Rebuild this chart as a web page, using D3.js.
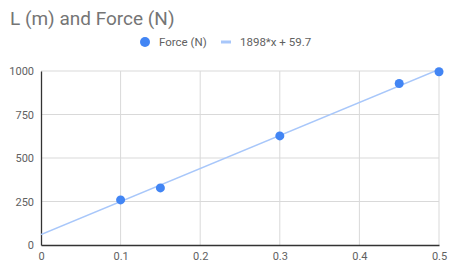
<!DOCTYPE html>
<html>
<head>
<meta charset="utf-8">
<script src="https://cdn.jsdelivr.net/npm/d3@7"></script>
<style>
  body { margin: 0; background: #fff; }
  svg { display: block; font-family: Roboto, Arial, sans-serif; }
</style>
</head>
<body>
<svg></svg>
<script>
const lengths = [0.1, 0.15, 0.3, 0.45, 0.5];
const forces = [259, 328, 627, 928, 996];
const slope = 1898;
const intercept = 59.7;
const xTicks = [0, 0.1, 0.2, 0.3, 0.4, 0.5];
const yTicks = [0, 250, 500, 750, 1000];
const title = 'L (m) and Force (N)';
const seriesName = 'Force (N)';
const trendName = '1898*x + 59.7';

const width = 450;
const height = 264;
const margin = { left: 41, right: 11, top: 71, bottom: 19 };

const svg = d3.select('svg').attr('width', width).attr('height', height);

const xScale = d3.scaleLinear().domain([0, 0.5]).range([margin.left, width - margin.right]);
const yScale = d3.scaleLinear().domain([0, 1000]).range([height - margin.bottom, margin.top]);

// title
svg.append('text')
  .attr('x', 10)
  .attr('y', 25)
  .attr('fill', '#757575')
  .attr('font-size', 19)
  .text(title);

// gridlines
svg.append('g')
  .selectAll('line')
  .data(xTicks.slice(1))
  .enter()
  .append('line')
  .attr('x1', (d) => xScale(d))
  .attr('x2', (d) => xScale(d))
  .attr('y1', yScale(0))
  .attr('y2', yScale(1000))
  .attr('stroke', '#d9d9d9')
  .attr('stroke-width', 1);

svg.append('g')
  .selectAll('line')
  .data(yTicks.slice(1))
  .enter()
  .append('line')
  .attr('x1', xScale(0))
  .attr('x2', xScale(0.5))
  .attr('y1', (d) => yScale(d))
  .attr('y2', (d) => yScale(d))
  .attr('stroke', '#d9d9d9')
  .attr('stroke-width', 1);

// axes
const xAxis = d3.axisBottom(xScale).tickValues(xTicks).tickSize(0).tickPadding(7)
  .tickFormat((d) => d === 0 ? '0' : String(d));
const yAxis = d3.axisLeft(yScale).tickValues(yTicks).tickSize(0).tickPadding(7)
  .tickFormat(d3.format('d'));

const gx = svg.append('g')
  .attr('transform', 'translate(0,' + yScale(0) + ')')
  .call(xAxis);
const gy = svg.append('g')
  .attr('transform', 'translate(' + xScale(0) + ',0)')
  .call(yAxis);

[gx, gy].forEach((g) => {
  g.select('.domain').attr('stroke', '#333').attr('stroke-width', 1.3);
  g.selectAll('text').attr('fill', '#616161').attr('font-size', 11).attr('font-family', 'Roboto, Arial, sans-serif');
});

// trend line
const clip = svg.append('clipPath').attr('id', 'plot-clip').append('rect')
  .attr('x', xScale(0))
  .attr('y', yScale(1000) - 1)
  .attr('width', xScale(0.5) - xScale(0))
  .attr('height', yScale(0) - yScale(1000) + 1);

const trend = d3.line()
  .x((d) => xScale(d))
  .y((d) => yScale(slope * d + intercept));

svg.append('path')
  .datum([0, 0.5])
  .attr('d', trend)
  .attr('clip-path', 'url(#plot-clip)')
  .attr('fill', 'none')
  .attr('stroke', '#a8c7fa')
  .attr('stroke-width', 1.6);

// points
svg.append('g')
  .selectAll('circle')
  .data(lengths)
  .enter()
  .append('circle')
  .attr('cx', (d) => xScale(d))
  .attr('cy', (d, i) => yScale(forces[i]))
  .attr('r', 4.5)
  .attr('fill', '#4285f4');

// legend
const legend = svg.append('g').attr('font-size', 11.5).attr('fill', '#616161');
legend.append('circle')
  .attr('cx', 145)
  .attr('cy', 42)
  .attr('r', 5)
  .attr('fill', '#4285f4');
legend.append('text')
  .attr('x', 159)
  .attr('y', 46)
  .text(seriesName);
legend.append('line')
  .attr('x1', 221)
  .attr('x2', 231)
  .attr('y1', 42)
  .attr('y2', 42)
  .attr('stroke', '#a8c7fa')
  .attr('stroke-width', 3);
legend.append('text')
  .attr('x', 240)
  .attr('y', 46)
  .text(trendName);
</script>
</body>
</html>
